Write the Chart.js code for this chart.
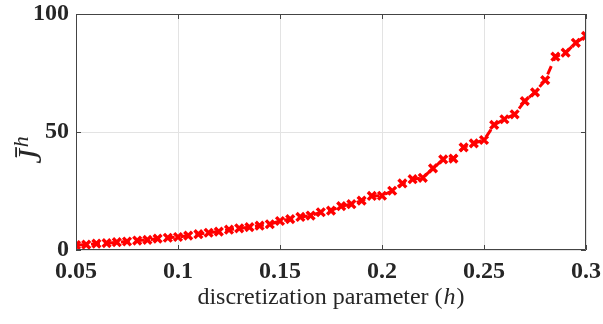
<!DOCTYPE html>
<html>
<head>
<meta charset="utf-8">
<script src="https://cdn.jsdelivr.net/npm/chart.js@4/dist/chart.umd.min.js"></script>
<style>
html,body{margin:0;padding:0;background:#fff;}
#wrap{width:603px;height:324px;position:relative;}
</style>
</head>
<body>
<div id="wrap"><canvas id="c" width="603" height="324"></canvas></div>
<script>
const hValues = [0.05,0.055,0.06,0.065,0.07,0.075,0.08,0.085,0.09,0.095,
  0.1,0.105,0.11,0.115,0.12,0.125,0.13,0.135,0.14,0.145,
  0.15,0.155,0.16,0.165,0.17,0.175,0.18,0.185,0.19,0.195,
  0.2,0.205,0.21,0.215,0.22,0.225,0.23,0.235,0.24,0.245,
  0.25,0.255,0.26,0.265,0.27,0.275,0.28,0.285,0.29,0.295,0.3];
const jValues = [2.1,2.3,2.7,2.9,3.3,3.6,4.0,4.3,4.8,5.2,
  5.5,6.1,6.7,7.3,7.8,8.6,9.2,9.7,10.3,10.9,
  12.3,13.1,14.0,14.6,16.0,16.7,18.6,19.4,20.9,22.9,
  23.0,25.1,28.2,30.0,30.6,34.6,38.4,38.7,43.5,45.2,
  46.6,53.0,55.4,57.5,63.1,66.8,72.0,81.9,83.6,87.8,90.7];
const xTicks = [0.05,0.1,0.15,0.2,0.25,0.3];
const yTicks = [0,50,100];
const xTitleParts = ['discretization parameter (', 'h', ')'];
const yTitleParts = ['J\u0304', 'h'];

const points = hValues.map((h,i)=>({x:h,y:jValues[i]}));
const SERIF = '"Liberation Serif", "Times New Roman", serif';

const boxPlugin = {
  id:'box',
  afterDraw(chart){
    const {ctx, chartArea:a, scales:{x,y}} = chart;
    ctx.save();
    ctx.strokeStyle = '#444';
    ctx.lineWidth = 1;
    ctx.beginPath();
    ctx.rect(a.left+0.5, a.top+0.5, a.right-a.left-1, a.bottom-a.top-1);
    ctx.stroke();
    ctx.beginPath();
    const L = 5;
    xTicks.forEach(v=>{
      const px = Math.round(x.getPixelForValue(v))+0.5;
      ctx.moveTo(px,a.bottom); ctx.lineTo(px,a.bottom-L);
      ctx.moveTo(px,a.top); ctx.lineTo(px,a.top+L);
    });
    yTicks.forEach(v=>{
      const py = Math.round(y.getPixelForValue(v))+0.5;
      ctx.moveTo(a.left,py); ctx.lineTo(a.left+L,py);
      ctx.moveTo(a.right,py); ctx.lineTo(a.right-L,py);
    });
    ctx.stroke();

    // x title: normal text with italic h
    ctx.fillStyle = '#262626';
    ctx.textBaseline = 'alphabetic';
    const fN = '24px ' + SERIF, fI = 'italic 24px ' + SERIF;
    ctx.font = fN; const w0 = ctx.measureText(xTitleParts[0]).width;
    ctx.font = fI; const w1 = ctx.measureText(xTitleParts[1]).width + 2;
    ctx.font = fN; const w2 = ctx.measureText(xTitleParts[2]).width;
    const cx = (a.left + a.right)/2;
    let sx = cx - (w0+w1+w2)/2;
    const by = 304;
    ctx.textAlign = 'left';
    ctx.font = fN; ctx.fillText(xTitleParts[0], sx, by);
    ctx.font = fI; ctx.fillText(xTitleParts[1], sx + w0 + 1, by);
    ctx.font = fN; ctx.fillText(xTitleParts[2], sx + w0 + w1, by);

    // y title rotated
    ctx.save();
    ctx.translate(41, 150);
    ctx.rotate(-Math.PI/2);
    const fJ = 'italic 33px ' + SERIF, fH = 'italic 22px ' + SERIF;
    ctx.font = fJ; const wj = ctx.measureText(yTitleParts[0]).width;
    ctx.font = fH; const wh = ctx.measureText(yTitleParts[1]).width;
    const st = -(wj + wh + 2)/2;
    ctx.font = fJ; ctx.fillText(yTitleParts[0], st, 0);
    ctx.font = fH; ctx.fillText(yTitleParts[1], st + wj + 2, -13);
    ctx.restore();
    ctx.restore();
  }
};

new Chart(document.getElementById('c'), {
  type:'line',
  data:{datasets:[{
    data:points,
    borderColor:'#ff0000',
    backgroundColor:'#ff0000',
    borderWidth:3,
    borderDash:[9,6],
    pointStyle:'crossRot',
    pointRadius:5.5,
    pointBorderWidth:3.4,
    pointBorderColor:'#ff0000',
    tension:0,
    fill:false
  }]},
  options:{
    responsive:false,
    animation:false,
    plugins:{legend:{display:false},tooltip:{enabled:false}},
    layout:{padding:{top:14,right:17,left:0,bottom:0}},
    scales:{
      x:{
        type:'linear', min:0.05, max:0.3,
        afterBuildTicks(s){ s.ticks = xTicks.map(v=>({value:v})); },
        afterFit(s){ s.height = 74; s.paddingLeft = 0; s.paddingRight = 0; },
        grid:{color:'#e3e3e3', drawTicks:false, lineWidth:1},
        border:{display:false},
        ticks:{
          padding:7,
          color:'#262626',
          maxRotation:0,
          font:{family:SERIF, size:24, weight:'bold'},
          callback:(v)=>String(Math.round(v*100)/100)
        },
        title:{display:false}
      },
      y:{
        type:'linear', min:0, max:100,
        afterBuildTicks(s){ s.ticks = yTicks.map(v=>({value:v})); },
        afterFit(s){ s.width = 76; s.paddingTop = 0; s.paddingBottom = 0; },
        grid:{color:'#e3e3e3', drawTicks:false, lineWidth:1},
        border:{display:false},
        ticks:{
          padding:7,
          color:'#262626',
          font:{family:SERIF, size:24, weight:'bold'}
        },
        title:{display:false}
      }
    }
  },
  plugins:[boxPlugin]
});
</script>
</body>
</html>
